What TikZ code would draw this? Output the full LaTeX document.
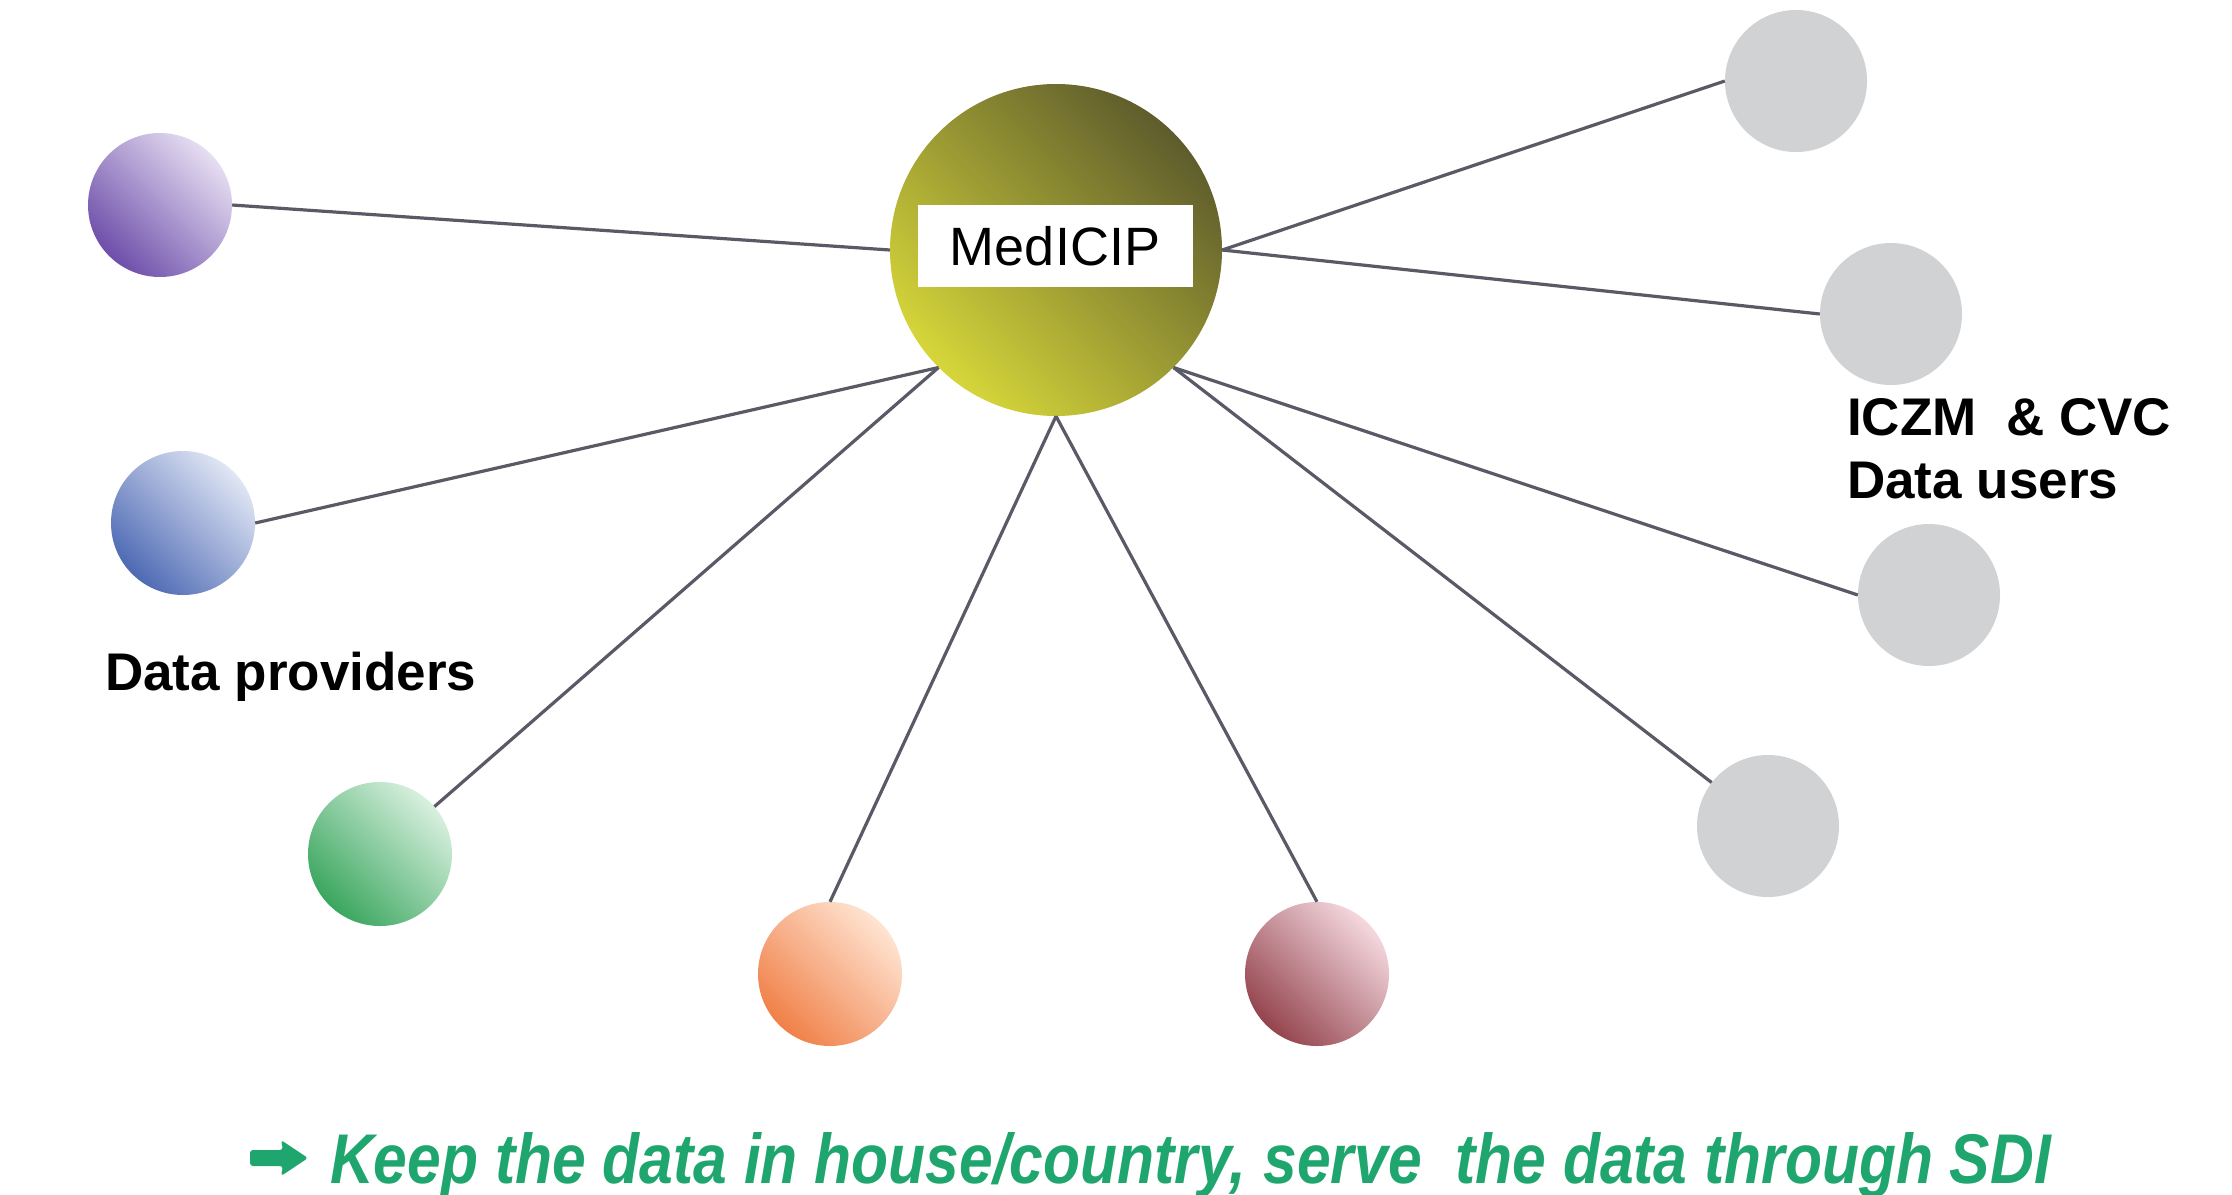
\documentclass[tikz,border=0pt]{standalone}
\usepackage{fontspec}
\usepackage{graphicx}
\setmainfont{Liberation Sans}
\definecolor{linegrey}{HTML}{5A5A66}
\definecolor{ballgrey}{HTML}{D1D2D4}
\definecolor{sloganG}{HTML}{1FA66E}
\definecolor{medDark}{HTML}{5E5C2C}
\definecolor{medLight}{HTML}{D6D63A}
\definecolor{purL}{HTML}{E6DEF2}\definecolor{purD}{HTML}{6E4EAA}
\definecolor{bluL}{HTML}{E0E6F4}\definecolor{bluD}{HTML}{4E6AB4}
\definecolor{grnL}{HTML}{D8F0DF}\definecolor{grnD}{HTML}{3AA65E}
\definecolor{orgL}{HTML}{FFE4D2}\definecolor{orgD}{HTML}{F08048}
\definecolor{marL}{HTML}{F4D8DE}\definecolor{marD}{HTML}{94444E}
\tikzset{
  ball/.style={circle, minimum size=144pt, inner sep=0pt},
  greyball/.style={circle, minimum size=142pt, inner sep=0pt, fill=ballgrey},
  link/.style={draw=linegrey, line width=3.2pt},
  lbl/.style={font=\fontsize{53}{60}\selectfont\bfseries, anchor=base west, inner sep=0pt},
  diag/.style={shading angle=-45},
}
\begin{document}
\begin{tikzpicture}[x=1pt,y=-1pt]
\path[fill=white,use as bounding box] (0,0) rectangle (2232,1194);
% centre
\node[circle, minimum size=332pt, inner sep=0pt,
      top color=medDark, bottom color=medLight, diag] (med) at (1056,250) {};
\node[fill=white, minimum width=275pt, minimum height=82pt, inner sep=0pt,
      font=\fontsize{54}{60}\selectfont] (medlbl) at (1055,246) {MedICIP};
% providers
\node[ball, top color=purL, bottom color=purD, diag] (p) at (160,205) {};
\node[ball, top color=bluL, bottom color=bluD, diag] (b) at (183,523) {};
\node[ball, top color=grnL, bottom color=grnD, diag] (g) at (380,854) {};
\node[ball, top color=orgL, bottom color=orgD, diag] (o) at (830,974) {};
\node[ball, top color=marL, bottom color=marD, diag] (m) at (1317,974) {};
% users
\node[greyball] (u1) at (1796,81) {};
\node[greyball] (u2) at (1891,314) {};
\node[greyball] (u3) at (1929,595) {};
\node[greyball] (u4) at (1768,826) {};
% links
\draw[link] (med.west) -- (p.east);
\draw[link] (med.south west) -- (b.east);
\draw[link] (med.south west) -- (g);
\draw[link] (med.south) -- (o.north);
\draw[link] (med.south) -- (m.north);
\draw[link] (med.east) -- (u1.west);
\draw[link] (med.east) -- (u2.west);
\draw[link] (med.south east) -- (u3.west);
\draw[link] (med.south east) -- (u4);
% labels
\node[lbl] (dp) at (105,690) {Data providers};
\node[lbl] (du1) at (1847,435) {ICZM\ \ \& CVC};
\node[lbl] (du2) at (1847,498) {Data users};
% slogan arrow
\fill[sloganG, rounded corners=3pt] (250,1150) -- (283,1150) -- (281,1140) -- (308,1158)
  -- (281,1176) -- (283,1166) -- (250,1166) -- cycle;
\node[anchor=base west, inner sep=0pt, text=sloganG] (slogan) at (330,1183)
  {\resizebox{1720pt}{51pt}{\bfseries\itshape Keep the data in house/country, serve\ \ the data through SDI}};
\end{tikzpicture}
\end{document}
